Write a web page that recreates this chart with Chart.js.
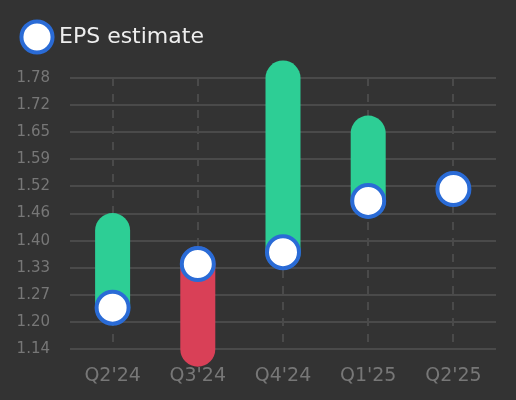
<!DOCTYPE html>
<html>
<head>
<meta charset="utf-8">
<script src="https://cdn.jsdelivr.net/npm/chart.js@4"></script>
<style>
  html, body { margin: 0; padding: 0; background: #333333; }
  #wrap { width: 516px; height: 400px; }
</style>
</head>
<body>
<div id="wrap"><canvas id="chart"></canvas></div>
<script>
const quarters = ["Q2'24", "Q3'24", "Q4'24", "Q1'25", "Q2'25"]
const estimates = [1.238, 1.341, 1.369, 1.490, 1.518]
const actuals = [1.42, 1.14, 1.78, 1.65, null]
const yTicks = [1.14, 1.204, 1.268, 1.332, 1.396, 1.46, 1.524, 1.588, 1.652, 1.716, 1.78]

const beatColor = '#2dce95'
const missColor = '#d94057'
const ringColor = '#2a6bd6'
const gridColor = '#4a4a4a'
const tickColor = '#777777'

// estimate -> actual as a thick round-capped segment, null breaks between quarters
const rangePoints = []
quarters.forEach((q, i) => {
  if (actuals[i] === null) return
  rangePoints.push({ x: q, y: estimates[i] })
  rangePoints.push({ x: q, y: actuals[i] })
  rangePoints.push({ x: q, y: null })
})

// a bit more room under the legend
const legendSpace = {
  id: 'legendSpace',
  beforeInit(chart) {
    const fit = chart.legend.fit
    chart.legend.fit = function () {
      fit.bind(chart.legend)()
      this.height += 20
    }
  }
}

new Chart(document.getElementById('chart'), {
  type: 'line',
  data: {
    labels: quarters,
    datasets: [
      {
        label: 'EPS estimate',
        data: estimates,
        showLine: false,
        order: 0,
        pointStyle: 'circle',
        pointRadius: 16,
        pointHoverRadius: 16,
        borderWidth: 4,
        backgroundColor: '#ffffff',
        borderColor: ringColor
      },
      {
        label: 'range',
        data: rangePoints,
        order: 1,
        clip: false,
        spanGaps: false,
        borderWidth: 35,
        borderCapStyle: 'round',
        pointRadius: 0,
        borderColor: beatColor,
        segment: {
          borderColor: ctx => ctx.p1.parsed.y >= ctx.p0.parsed.y ? beatColor : missColor
        }
      }
    ]
  },
  plugins: [legendSpace],
  options: {
    responsive: true,
    maintainAspectRatio: false,
    animation: false,
    layout: { padding: { left: 0, right: 20, bottom: -2 } },
    plugins: {
      legend: {
        position: 'top',
        align: 'start',
        labels: {
          usePointStyle: true,
          padding: 26,
          color: '#eeeeee',
          font: { family: 'DejaVu Sans', size: 22 },
          filter: item => item.datasetIndex === 0
        }
      },
      tooltip: { enabled: false }
    },
    scales: {
      x: {
        offset: true,
        grid: {
          offset: false,
          color: gridColor,
          lineWidth: 2,
          drawTicks: false
        },
        border: { display: false, dash: [8, 8] },
        ticks: {
          color: tickColor,
          padding: 15,
          font: { family: 'DejaVu Sans', size: 19 }
        }
      },
      y: {
        min: 1.14,
        max: 1.78,
        afterBuildTicks: scale => {
          scale.ticks = yTicks.map(value => ({ value }))
        },
        afterFit: scale => {
          scale.width = 70
        },
        grid: { color: gridColor, lineWidth: 2, drawTicks: false },
        border: { display: false },
        ticks: {
          color: tickColor,
          padding: 20,
          font: { family: 'DejaVu Sans', size: 15 },
          callback: value => value.toFixed(2)
        }
      }
    }
  }
})
</script>
</body>
</html>
